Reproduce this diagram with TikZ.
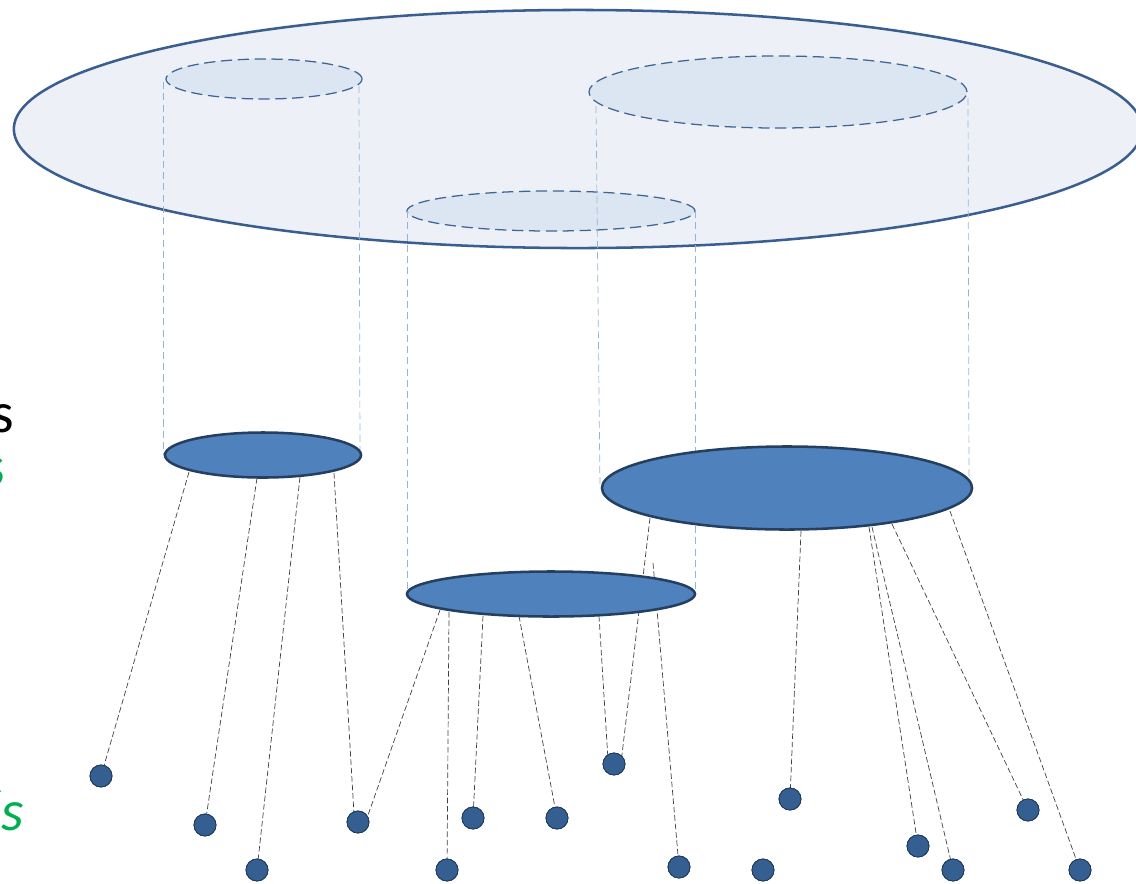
\documentclass[tikz,border=0pt]{standalone}
\usepackage{fontspec}
\setmainfont{Carlito}
\usetikzlibrary{shapes.geometric}
\definecolor{bigfill}{HTML}{EDF1F7}
\definecolor{bigline}{HTML}{3A5E8F}
\definecolor{subfill}{HTML}{DCE6F2}
\definecolor{subline}{HTML}{3F6594}
\definecolor{solfill}{HTML}{4F81BD}
\definecolor{solline}{HTML}{243F60}
\definecolor{dotfill}{HTML}{355F91}
\definecolor{dotline}{HTML}{1F3A5C}
\definecolor{projline}{HTML}{95B3D7}
\definecolor{linkline}{HTML}{404040}
\definecolor{lblgreen}{HTML}{00B050}
\tikzset{
  bigell/.style={ellipse, draw=bigline, fill=bigfill, line width=1.8pt, inner sep=0pt, outer sep=0pt},
  subell/.style={ellipse, draw=subline, fill=subfill, line width=0.9pt, dash pattern=on 8pt off 4pt, inner sep=0pt, outer sep=0pt},
  solell/.style={ellipse, draw=solline, fill=solfill, line width=1.8pt, inner sep=0pt, outer sep=0pt},
  dotnode/.style={circle, draw=dotline, fill=dotfill, line width=0.6pt, minimum size=0.55cm, inner sep=0pt, outer sep=0pt},
  projl/.style={draw=projline, line width=0.5pt, dash pattern=on 5pt off 3pt},
  linkl/.style={draw=linkline, line width=0.5pt, dash pattern=on 4pt off 2pt},
  lbl/.style={inner sep=0pt, outer sep=0pt, font=\fontsize{41}{49}\selectfont}
}
\begin{document}
\begin{tikzpicture}[x=0.025cm,y=-0.025cm]
\useasboundingbox (0,0) rectangle (1136,883);
% big ellipse
\node[bigell, minimum width=28.2cm, minimum height=5.95cm] (big) at (578,129) {};
% projections (dashed)
\node[subell, minimum width=4.9cm, minimum height=1.0cm] (e1) at (264,79) {};
\node[subell, minimum width=9.45cm, minimum height=1.8cm] (e2) at (778,92) {};
\node[subell, minimum width=7.2cm, minimum height=1.0cm] (e3) at (551,211) {};
% vertical guide lines
\coordinate (p1t) at (163,82);  \coordinate (p1b) at (163,455);
\coordinate (p2t) at (359,86);  \coordinate (p2b) at (360,455);
\coordinate (p3t) at (407,211); \coordinate (p3b) at (407,594);
\coordinate (p4t) at (695,211); \coordinate (p4b) at (695,594);
\coordinate (p5t) at (596,106); \coordinate (p5b) at (600,488);
\coordinate (p6t) at (968,98);  \coordinate (p6b) at (969,486);
\path[projl] (p1t) -- (p1b);
\path[projl] (p2t) -- (p2b);
\path[projl] (p3t) -- (p3b);
\path[projl] (p4t) -- (p4b);
\path[projl] (p5t) -- (p5b);
\path[projl] (p6t) -- (p6b);
% dots
\node[dotnode] (d1) at (101,776) {};
\node[dotnode] (d2) at (205,825) {};
\node[dotnode] (d3) at (257,870) {};
\node[dotnode] (d4) at (358,822) {};
\node[dotnode] (d5) at (447,870) {};
\node[dotnode] (d6) at (473,818) {};
\node[dotnode] (d7) at (557,818) {};
\node[dotnode] (d8) at (614,764) {};
\node[dotnode] (d9) at (679,867) {};
\node[dotnode] (d10) at (790,799) {};
\node[dotnode] (d11) at (763,870) {};
\node[dotnode] (d12) at (918,846) {};
\node[dotnode] (d13) at (953,870) {};
\node[dotnode] (d14) at (1028,810) {};
\node[dotnode] (d15) at (1080,870) {};
% link start points
\coordinate (a1) at (189,472);
\coordinate (a2) at (257,478);
\coordinate (a3) at (300,477);
\coordinate (a4) at (334,473);
\coordinate (b1) at (440,610);
\coordinate (b2) at (449,612);
\coordinate (b3) at (483,616);
\coordinate (b4) at (519,616);
\coordinate (b5) at (599,616);
\coordinate (b6) at (653,563);
\coordinate (c1) at (650,518);
\coordinate (c2) at (801,531);
\coordinate (c3) at (869,527);
\coordinate (c4) at (872,527);
\coordinate (c5) at (892,524);
\coordinate (c6) at (950,511);
% links
\path[linkl] (a1) -- (d1);
\path[linkl] (a2) -- (d2);
\path[linkl] (a3) -- (d3);
\path[linkl] (a4) -- (d4.112);
\path[linkl] (b1) -- (d4.30);
\path[linkl] (b2) -- (d5);
\path[linkl] (b3) -- (d6);
\path[linkl] (b4) -- (d7);
\path[linkl] (b5) -- (d8.125);
\path[linkl] (b6) -- (d9);
\path[linkl] (c1) -- (d8.45);
\path[linkl] (c2) -- (d10);
\path[linkl] (c3) -- (d12);
\path[linkl] (c4) -- (d13);
\path[linkl] (c5) -- (d14);
\path[linkl] (c6) -- (d15);
% solid ellipses
\node[solell, minimum width=4.9cm, minimum height=1.125cm] (s1) at (263,455) {};
\node[solell, minimum width=9.25cm, minimum height=2.075cm] (s2) at (787,488) {};
\node[solell, minimum width=7.2cm, minimum height=1.125cm] (s3) at (551,594) {};
% redraw dots on top
\foreach \d in {d1,d2,d3,d4,d5,d6,d7,d8,d9,d10,d11,d12,d13,d14,d15}{
  \path[draw=dotline, fill=dotfill, line width=0.6pt] (\d.center) circle[radius=0.275cm];
}
% cropped labels
\node[lbl, anchor=base east, text=black] (t1) at (14,432) {s};
\node[lbl, anchor=base east, text=lblgreen] (t2) at (5,485) {s};
\node[lbl, anchor=base east, text=lblgreen, font=\fontsize{41}{49}\selectfont\itshape] (t3) at (24,830) {és};
\end{tikzpicture}
\end{document}
